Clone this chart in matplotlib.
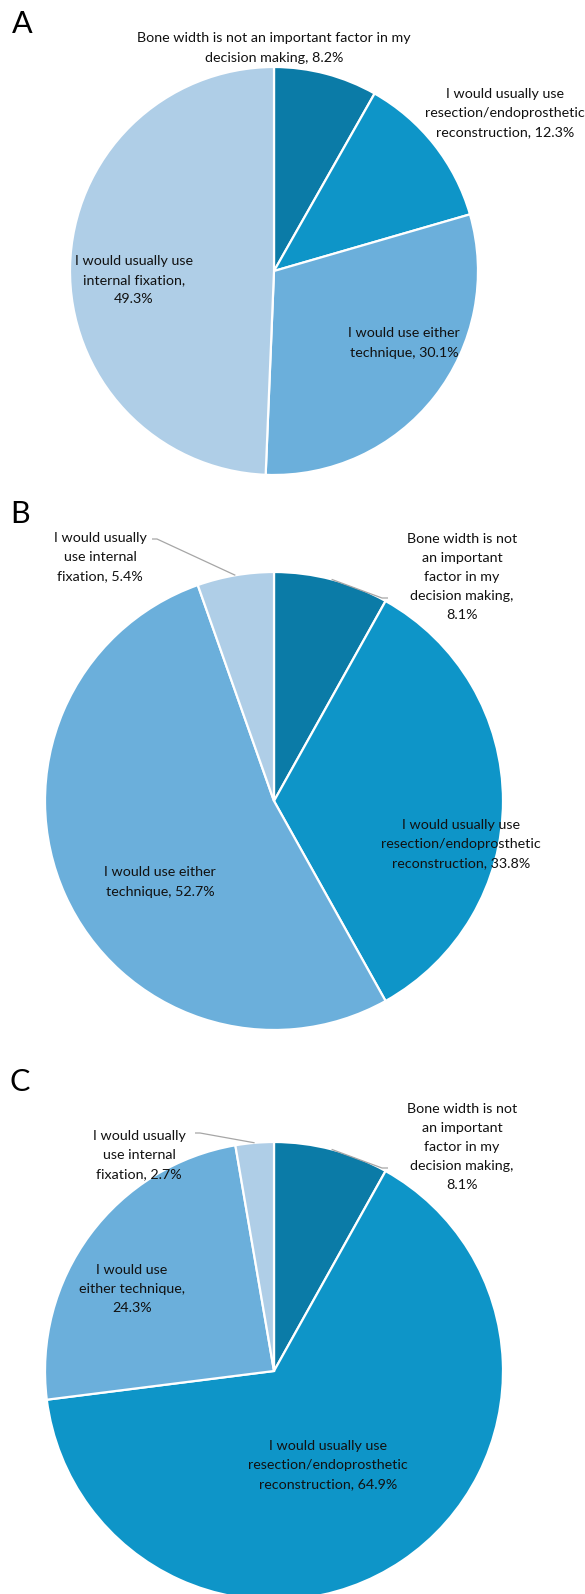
import matplotlib
matplotlib.use("Agg")
import matplotlib.pyplot as plt
import numpy as np

plt.rcParams['font.family'] = ['Lato', 'DejaVu Sans']

# ---------------- data ----------------
cat_bone = "Bone width is not an important factor in my decision making"
cat_resect = "I would usually use resection/endoprosthetic reconstruction"
cat_either = "I would use either technique"
cat_internal = "I would usually use internal fixation"
categories = [cat_bone, cat_resect, cat_either, cat_internal]

values_A = [8.2, 12.3, 30.1, 49.3]
values_B = [8.1, 33.8, 52.7, 5.4]
values_C = [8.1, 64.9, 24.3, 2.7]

labels_A = ["Bone width is not an important factor in my\ndecision making, 8.2%",
            "I would usually use\nresection/endoprosthetic\nreconstruction, 12.3%",
            "I would use either\ntechnique, 30.1%",
            "I would usually use\ninternal fixation,\n49.3%"]
labels_B = ["Bone width is not\nan important\nfactor in my\ndecision making,\n8.1%",
            "I would usually use\nresection/endoprosthetic\nreconstruction, 33.8%",
            "I would use either\ntechnique, 52.7%",
            "I would usually\nuse internal\nfixation, 5.4%"]
labels_C = ["Bone width is not\nan important\nfactor in my\ndecision making,\n8.1%",
            "I would usually use\nresection/endoprosthetic\nreconstruction, 64.9%",
            "I would use\neither technique,\n24.3%",
            "I would usually\nuse internal\nfixation, 2.7%"]
panel_letters = ["A", "B", "C"]

colors = ["#0B7BA7", "#0E95C8", "#6BAFDB", "#AFCEE7"]

# ---------------- layout (pixels, y from top) ----------------
W, H = 585, 1594
fig = plt.figure(figsize=(W / 100, H / 100), dpi=100)
ax = fig.add_axes([0, 0, 1, 1])

def Y(y):
    return H - y

pies = [
    dict(values=values_A, labels=labels_A, center=(274, 271), r=204,
         label_pos=[(274, 48), (505, 113), (404, 343), (134, 280)],
         letter_pos=(22, 24), leaders={}),
    dict(values=values_B, labels=labels_B, center=(274, 801), r=229,
         label_pos=[(462, 577), (461, 844), (160, 882), (100, 557)],
         letter_pos=(20, 514),
         leaders={0: [(382, 598), (388, 598)], 3: [(157, 539), (152, 539)]}),
    dict(values=values_C, labels=labels_C, center=(274, 1371), r=229,
         label_pos=[(462, 1147), (328, 1465), (132, 1289), (139, 1155)],
         letter_pos=(20, 1082),
         leaders={0: [(382, 1168), (388, 1168)], 3: [(200, 1133), (195, 1133)]}),
]

fs = 10.3
for p, letter in zip(pies, panel_letters):
    cx, cy = p["center"]
    wedges, _ = ax.pie(p["values"], colors=colors, startangle=90, counterclock=False,
                       center=(cx, Y(cy)), radius=p["r"],
                       wedgeprops=dict(edgecolor="white", linewidth=1.6))
    for (tx, ty), lab in zip(p["label_pos"], p["labels"]):
        ax.text(tx, Y(ty), lab, ha="center", va="center", fontsize=fs,
                linespacing=1.72, color="#111111")
    for idx, pts in p["leaders"].items():
        w = wedges[idx]
        mid = np.deg2rad((w.theta1 + w.theta2) / 2)
        ex = cx + p["r"] * np.cos(mid)
        ey = Y(cy) + p["r"] * np.sin(mid)
        xs = [ex] + [q[0] for q in pts]
        ys = [ey] + [Y(q[1]) for q in pts]
        ax.plot(xs, ys, color="#A6A6A6", lw=0.9, solid_capstyle="butt")
    lx, ly = p["letter_pos"]
    ax.text(lx, Y(ly), letter, ha="center", va="center", fontsize=22, color="black")

ax.set_xlim(0, W)
ax.set_ylim(0, H)
ax.set_aspect("equal")
ax.axis("off")
fig.savefig("out.png", dpi=100, facecolor="white")
